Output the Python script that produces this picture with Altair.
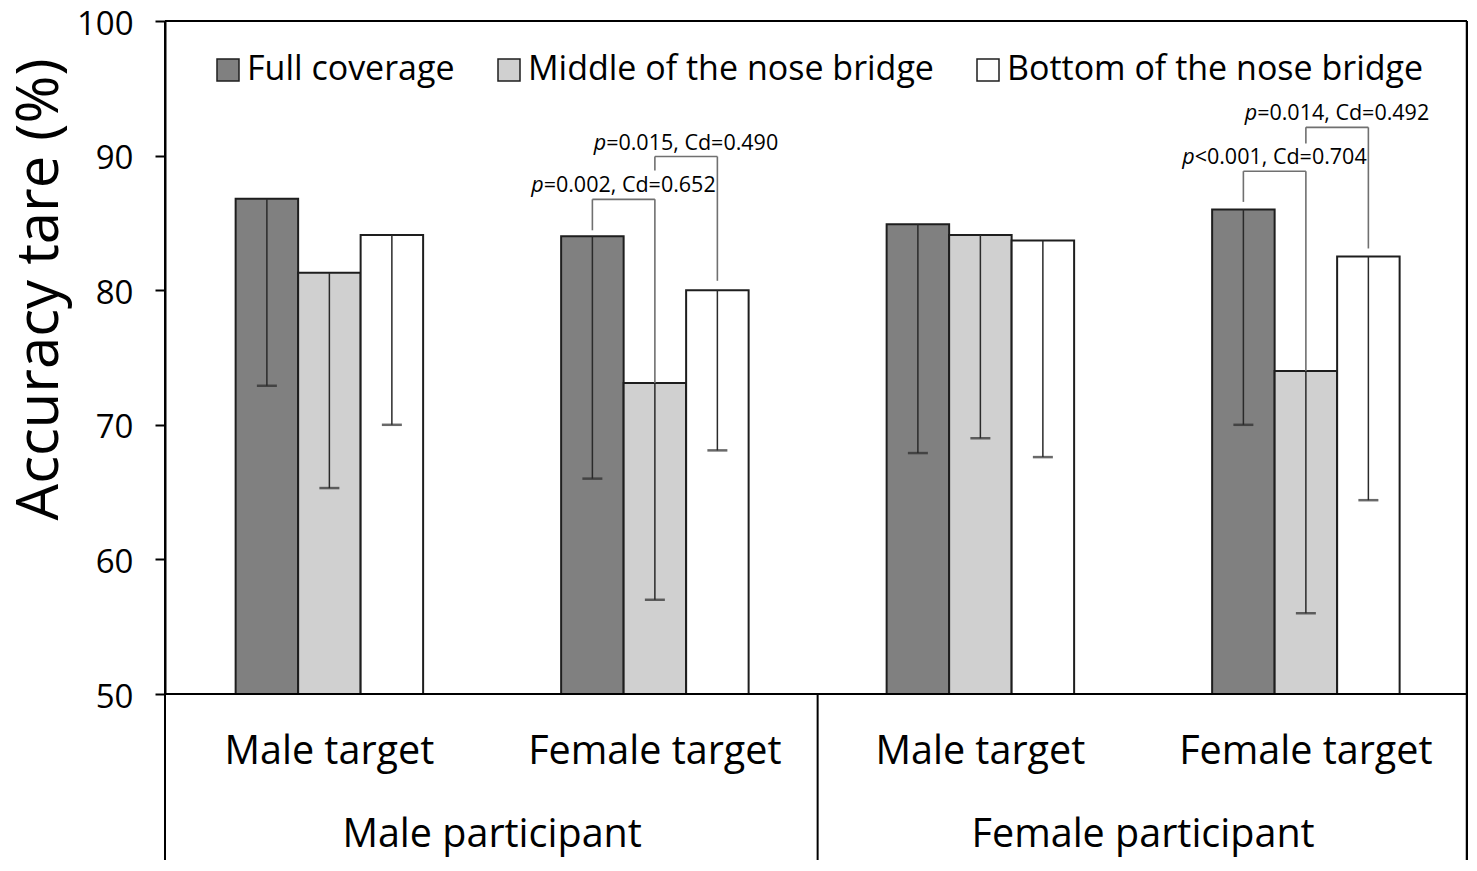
import altair as alt
import pandas as pd

# ---------------- data ----------------
targets = ["Male target", "Female target", "Male target", "Female target"]
participants = ["Male participant", "Female participant"]
participant_pos = [0.5, 2.5]
divider_pos = [1.5]
conditions = ["Full coverage", "Middle of the nose bridge", "Bottom of the nose bridge"]

full_vals = [86.8, 84.0, 84.9, 86.0]
middle_vals = [81.3, 73.1, 84.1, 74.0]
bottom_vals = [84.1, 80.0, 83.7, 82.5]
full_low = [72.9, 66.0, 67.9, 70.0]
middle_low = [65.3, 57.0, 69.0, 56.0]
bottom_low = [70.0, 68.1, 67.6, 64.4]

# significance brackets
br_group = [1, 1, 3, 3]
br_from = [0, 1, 0, 1]
br_to = [1, 2, 1, 2]
br_level = [86.75, 89.93, 88.84, 92.1]
br_left_end = [84.45, 88.9, 86.56, 90.9]
br_right_end = [73.1, 80.7, 74.0, 83.1]
br_p = ["p", "p", "p", "p"]
br_rest = ["=0.002, Cd=0.652", "=0.015, Cd=0.490", "<0.001, Cd=0.704", "=0.014, Cd=0.492"]

colors = ["#808080", "#d0d0d0", "#ffffff"]
y_ticks = [50, 60, 70, 80, 90, 100]

# ---------------- layout ----------------
W, H = 1302, 673
BW = 0.192
FONT = "Open Sans"

vals = [full_vals, middle_vals, bottom_vals]
lows = [full_low, middle_low, bottom_low]
rows = []
for gi in range(len(targets)):
    for ci, cond in enumerate(conditions):
        c = gi + (ci - 1) * BW
        rows.append({"cond": cond, "x0": c - BW / 2, "x1": c + BW / 2, "xc": c,
                     "value": vals[ci][gi], "lower": lows[ci][gi]})
bars_df = pd.DataFrame(rows)

seg_rows, txt_rows = [], []
for k in range(len(br_group)):
    a = br_group[k] + (br_from[k] - 1) * BW
    b = br_group[k] + (br_to[k] - 1) * BW
    lv = br_level[k]
    seg_rows += [
        {"x": a, "x2": b, "value": lv, "y2": lv},
        {"x": a, "x2": a, "value": lv, "y2": br_left_end[k]},
        {"x": b, "x2": b, "value": lv, "y2": br_right_end[k]},
    ]
    txt_rows.append({"x": (a + b) / 2, "value": lv, "p": br_p[k], "rest": br_rest[k]})
seg_df = pd.DataFrame(seg_rows)
txt_df = pd.DataFrame(txt_rows)

tgt_df = pd.DataFrame({"x": list(range(len(targets))), "label": targets})
par_df = pd.DataFrame({"x": participant_pos, "label": participants})
div_df = pd.DataFrame({"x": divider_pos})

xscale = alt.Scale(domain=[-0.505, 3.495], nice=False, zero=False)
yscale = alt.Scale(domain=[50, 100], nice=False, zero=False)
yaxis = alt.Axis(values=y_ticks, grid=False, tickSize=10, tickWidth=2, tickColor="black",
                 domainColor="black", domainWidth=2, labelFont=FONT, labelFontSize=33,
                 labelColor="black", labelPadding=22, labelBaseline="top",
                 labelOffset=-13,
                 title="Accuracy tare (%)",
                 titleFont=FONT, titleFontSize=58, titleFontWeight="normal",
                 titleColor="black", titleAngle=270, titleX=-125, titleY=268,
                 titleAlign="center", titleBaseline="middle")


def X(field):
    return alt.X(field, scale=xscale, axis=None)


def Y(field):
    return alt.Y(field, scale=yscale, axis=yaxis)


bars = alt.Chart(bars_df).mark_bar(stroke="#1e1e1e", strokeWidth=2).encode(
    x=X("x0:Q"), x2="x1:Q", y=Y("value:Q"), y2=alt.datum(50),
    fill=alt.Fill("cond:N", sort=conditions,
                  scale=alt.Scale(domain=conditions, range=colors),
                  legend=alt.Legend(orient="none", legendX=46, legendY=32,
                                    direction="horizontal", title=None,
                                    symbolType="square", symbolSize=484,
                                    symbolStrokeColor="#1e1e1e", symbolStrokeWidth=1.5,
                                    labelFont=FONT, labelFontSize=34, labelColor="black",
                                    labelOffset=2, columnPadding=37, labelLimit=800,
                                    padding=0)),
)

err = alt.Chart(bars_df).mark_rule(color="#2a2a2a", strokeWidth=1.5).encode(
    x=X("xc:Q"), y=Y("value:Q"), y2="lower:Q")

caps = alt.Chart(bars_df).mark_tick(orient="horizontal", size=20, thickness=2.5,
                                    color="#2a2a2a").encode(
    x=X("xc:Q"), y=Y("lower:Q"))

segs = alt.Chart(seg_df).mark_rule(color="#707070", strokeWidth=1.6).encode(
    x=X("x:Q"), x2="x2:Q", y=Y("value:Q"), y2="y2:Q")

ptxt = alt.Chart(txt_df).mark_text(font=FONT, fontSize=21.5, fontStyle="italic",
                                   align="right", baseline="middle", dx=-80, dy=-13,
                                   color="black").encode(
    x=X("x:Q"), y=Y("value:Q"), text="p:N")

rtxt = alt.Chart(txt_df).mark_text(font=FONT, fontSize=21.5, align="left",
                                   baseline="middle", dx=-80, dy=-13,
                                   color="black").encode(
    x=X("x:Q"), y=Y("value:Q"), text="rest:N")

# frame and category axis lines
top_line = alt.Chart(div_df).mark_rule(color="black", strokeWidth=2).encode(
    x=alt.value(0), x2=alt.value(W), y=alt.value(0))
bottom_line = alt.Chart(div_df).mark_rule(color="black", strokeWidth=2).encode(
    x=alt.value(0), x2=alt.value(W), y=alt.value(H))
left_line = alt.Chart(div_df).mark_rule(color="black", strokeWidth=2).encode(
    x=alt.value(0), y=alt.value(0), y2=alt.value(H + 166))
right_line = alt.Chart(div_df).mark_rule(color="black", strokeWidth=2.5).encode(
    x=alt.value(W), y=alt.value(0), y2=alt.value(H + 166))
mid_line = alt.Chart(div_df).mark_rule(color="black", strokeWidth=2).encode(
    x=X("x:Q"), y=alt.value(H), y2=alt.value(H + 166))

tgt_txt = alt.Chart(tgt_df).mark_text(font=FONT, fontSize=39.5, color="black",
                                      baseline="middle").encode(
    x=X("x:Q"), y=alt.value(H + 58), text="label:N")
par_txt = alt.Chart(par_df).mark_text(font=FONT, fontSize=39.5, color="black",
                                      baseline="middle").encode(
    x=X("x:Q"), y=alt.value(H + 141), text="label:N")

chart = alt.layer(
    bars, err, caps, segs, ptxt, rtxt,
    top_line, bottom_line, left_line, right_line, mid_line, tgt_txt, par_txt,
).properties(
    width=W, height=H,
    autosize=alt.AutoSizeParams(type="none"),
    padding={"left": 157, "top": 13, "right": 1, "bottom": 166},
    background="white",
).configure_view(stroke=None)

chart.save("out.html", embed_options={"renderer": "svg", "actions": False})
